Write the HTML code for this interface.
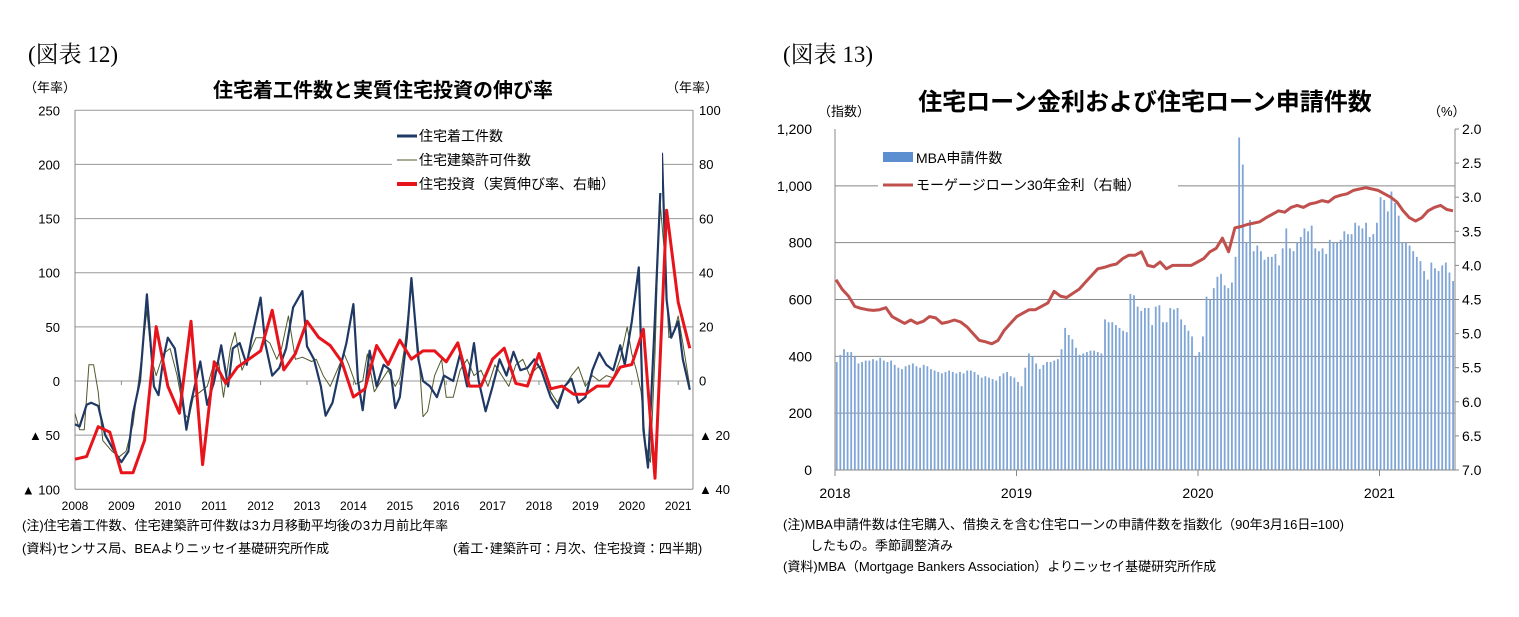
<!DOCTYPE html>
<html><head><meta charset="utf-8">
<style>
body{margin:0;background:#fff;}
svg{display:block;font-family:"Liberation Sans","Noto Sans CJK JP",sans-serif;}
.t{font-size:13px;fill:#000;}
.n{font-size:13px;fill:#000;}
</style></head>
<body>
<svg id="s" width="1519" height="617" viewBox="0 0 1519 617" xmlns="http://www.w3.org/2000/svg">
<text x="28" y="62" style="font-family:'Liberation Serif','Noto Serif CJK SC',serif;font-size:23px">(図表 12)</text>
<text x="783" y="62" style="font-family:'Liberation Serif','Noto Serif CJK SC',serif;font-size:23px">(図表 13)</text>
<text x="383" y="97" text-anchor="middle" style="font-size:20px;font-weight:bold">住宅着工件数と実質住宅投資の伸び率</text>
<text x="24" y="92" class="t">（年率）</text>
<text x="666" y="92" class="t">（年率）</text>
<text x="1145" y="110" text-anchor="middle" style="font-size:24px;font-weight:bold">住宅ローン金利および住宅ローン申請件数</text>
<text x="818" y="116" class="t">（指数）</text>
<text x="1428" y="116" class="t">（%）</text>
<g id="L"></g>
<g id="R"></g>
<text x="22" y="530" class="n">(注)住宅着工件数、住宅建築許可件数は3カ月移動平均後の3カ月前比年率</text>
<text x="22" y="553" class="n">(資料)センサス局、BEAよりニッセイ基礎研究所作成</text>
<text x="453" y="553" class="n">(着工･建築許可：月次、住宅投資：四半期)</text>
<text x="783" y="529" class="n">(注)MBA申請件数は住宅購入、借換えを含む住宅ローンの申請件数を指数化（90年3月16日=100)</text>
<text x="810" y="550" class="n">したもの。季節調整済み</text>
<text x="783" y="571" class="n">(資料)MBA（Mortgage Bankers Association）よりニッセイ基礎研究所作成</text>
</svg>
<script>
// ---- Left chart data ----
const startsT=[2008.0,2008.1,2008.25,2008.35,2008.5,2008.65,2008.85,2009.0,2009.15,2009.25,2009.4,2009.55,2009.7,2009.8,2009.9,2010.0,2010.15,2010.3,2010.4,2010.5,2010.7,2010.85,2011.0,2011.15,2011.3,2011.4,2011.55,2011.7,2011.8,2012.0,2012.1,2012.25,2012.4,2012.55,2012.7,2012.9,2013.0,2013.15,2013.3,2013.4,2013.55,2013.7,2013.85,2014.0,2014.1,2014.2,2014.35,2014.5,2014.65,2014.8,2014.9,2015.0,2015.15,2015.25,2015.4,2015.5,2015.65,2015.8,2015.95,2016.15,2016.3,2016.45,2016.6,2016.7,2016.85,2017.0,2017.15,2017.3,2017.45,2017.6,2017.75,2017.9,2018.05,2018.25,2018.4,2018.55,2018.7,2018.85,2019.0,2019.15,2019.3,2019.45,2019.6,2019.75,2019.85,2020.0,2020.15,2020.25,2020.35,2020.5,2020.65,2020.75,2020.85,2021.0,2021.1,2021.25];
const startsV=[-40,-42,-22,-20,-23,-50,-65,-75,-65,-30,0,80,-5,-13,20,40,30,-10,-45,-20,18,-22,0,33,-5,30,35,15,38,77,35,5,12,30,68,83,32,20,-5,-32,-20,10,35,71,0,-27,28,-5,15,10,-25,-15,40,95,20,0,-5,-15,5,0,25,-5,35,0,-28,-5,20,5,27,10,12,20,10,-15,-25,-5,2,-20,-15,10,26,15,10,33,15,55,105,-45,-80,60,210,75,40,55,20,-8];
const permitT=[2008.0,2008.1,2008.2,2008.3,2008.4,2008.5,2008.6,2008.8,2008.95,2009.1,2009.25,2009.4,2009.55,2009.65,2009.75,2009.9,2010.05,2010.2,2010.35,2010.45,2010.55,2010.7,2010.85,2011.0,2011.1,2011.2,2011.35,2011.45,2011.6,2011.75,2011.9,2012.05,2012.2,2012.35,2012.45,2012.6,2012.75,2012.9,2013.1,2013.2,2013.35,2013.5,2013.65,2013.8,2013.9,2014.05,2014.2,2014.3,2014.45,2014.6,2014.75,2014.9,2015.0,2015.1,2015.25,2015.4,2015.5,2015.6,2015.75,2015.9,2016.0,2016.15,2016.3,2016.45,2016.6,2016.75,2016.9,2017.05,2017.2,2017.35,2017.5,2017.65,2017.8,2017.95,2018.1,2018.25,2018.4,2018.55,2018.7,2018.85,2019.0,2019.15,2019.3,2019.45,2019.6,2019.75,2019.9,2020.0,2020.1,2020.2,2020.3,2020.4,2020.5,2020.6,2020.7,2020.8,2020.9,2021.0,2021.1,2021.25];
const permitV=[-30,-45,-45,15,15,-10,-55,-65,-70,-65,-40,10,65,20,5,25,30,5,-30,-35,-15,-10,-5,17,17,-15,30,45,10,25,40,40,35,20,30,60,20,22,18,20,5,-5,10,25,15,-3,0,25,-10,0,10,-5,3,30,90,30,-33,-28,5,20,-15,-15,10,20,5,10,-5,15,5,-5,15,20,5,12,15,-10,-20,-5,5,13,-5,5,0,5,3,20,50,25,10,-10,-60,-75,25,170,120,40,45,60,35,-5];
const investV=[-29,-28,-17,-19,-34,-34,-22,20,-2,-12,22,-31,7,-1,5,8,11,26,4,10,22,16,13,7,-6,-3,13,6,15,8,11,11,7,14,-2,-2,8,12,-1,-2,10,-3,-2,-5,-5,-2,-2,5,6,19,-36,63,29,12];
const leftTicks=["250","200","150","100","50","0","▲ 50","▲ 100"];
const leftTickVals=[250,200,150,100,50,0,-50,-100];
const rightTicks=["100","80","60","40","20","0","▲ 20","▲ 40"];
const rightTickVals=[100,80,60,40,20,0,-20,-40];
const yearLabels=["2008","2009","2010","2011","2012","2013","2014","2015","2016","2017","2018","2019","2020","2021"];

// ---- Right chart data ----
const mbaV=[380,405,425,415,415,400,375,380,385,385,390,385,395,385,380,385,370,360,355,365,370,375,365,360,370,365,355,350,345,340,345,350,345,340,345,340,350,350,345,335,325,330,325,320,315,330,340,345,330,325,310,295,
360,410,400,375,355,370,380,380,385,390,425,500,475,460,430,405,410,415,420,420,415,410,530,520,520,510,500,490,485,620,615,575,560,570,570,510,575,580,520,520,570,565,570,530,510,490,470,400,
415,470,610,600,640,680,690,650,640,660,750,1170,1075,800,880,770,790,770,740,750,750,760,720,780,850,780,770,800,820,850,840,860,780,770,780,760,810,800,800,810,840,830,830,870,860,850,870,820,830,870,
960,950,910,980,940,895,800,800,790,770,750,735,700,670,730,710,700,720,730,695,665];
const rateV=[4.21,4.35,4.45,4.6,4.63,4.65,4.66,4.65,4.62,4.75,4.8,4.85,4.8,4.85,4.82,4.75,4.77,4.85,4.83,4.8,4.83,4.9,5.0,5.1,5.12,5.15,5.1,4.95,4.85,4.75,4.7,4.65,4.65,4.6,4.55,4.38,4.45,4.47,4.41,4.35,4.25,4.15,4.05,4.03,4.0,3.98,3.9,3.85,3.85,3.8,4.0,4.02,3.95,4.05,4.0,4.0,4.0,4.0,3.95,3.9,3.8,3.75,3.6,3.8,3.45,3.43,3.4,3.38,3.36,3.3,3.25,3.2,3.22,3.15,3.12,3.15,3.1,3.08,3.05,3.07,3.0,2.97,2.95,2.9,2.88,2.86,2.88,2.9,2.95,3.0,3.07,3.2,3.3,3.35,3.3,3.2,3.15,3.12,3.18,3.2];
const mbaTicks=["0","200","400","600","800","1,000","1,200"];
const mbaTickVals=[0,200,400,600,800,1000,1200];
const rateTicks=["2.0","2.5","3.0","3.5","4.0","4.5","5.0","5.5","6.0","6.5","7.0"];
const rateTickVals=[2,2.5,3,3.5,4,4.5,5,5.5,6,6.5,7];
const rYearLabels=["2018","2019","2020","2021"];

const NS="http://www.w3.org/2000/svg";
function mk(parent,tag,attrs){const e=document.createElementNS(NS,tag);for(const k in attrs)e.setAttribute(k,attrs[k]);parent.appendChild(e);return e;}

// Left axes
const L=document.getElementById('L');
const lx0=75,lx1=693,ly0=110,ly1=489;
const xL=t=>lx0+(t-2008)*46.4;
const yL=v=>381-v*(ly1-ly0)/350;
const yLR=v=>ly0+(100-v)*(ly1-ly0)/140;
leftTickVals.forEach((v,i)=>{
  const g=mk(L,'line',{x1:lx0,x2:lx1,y1:yL(v),y2:yL(v),stroke:v===-100?'#888':'#999','stroke-width':1});
  
  
  const t=mk(L,'text',{x:60,y:yL(v)+5,'text-anchor':'end','font-size':13});
  t.textContent=leftTicks[i];
  
  
});
rightTickVals.forEach((v,i)=>{
  const t=mk(L,'text',{x:699,y:yLR(v)+5,'font-size':13});
  t.textContent=rightTicks[i];
  
  
});
let ax=mk(L,'line',{x1:lx0,x2:lx0,y1:ly0,y2:ly1,stroke:'#888'});


ax=mk(L,'line',{x1:lx1,x2:lx1,y1:ly0,y2:ly1,stroke:'#888'});


yearLabels.forEach((y,i)=>{
  const x=xL(2008+i);
  mk(L,'line',{x1:x,x2:x,y1:381,y2:385,stroke:'#888'});
  const t=mk(L,'text',{x:x,y:510,'text-anchor':'middle','font-size':12});
  t.textContent=y;
  
  
});
function poly(parent,pts,color,w,name){
  const p=mk(parent,'polyline',{points:pts.map(p=>p[0].toFixed(1)+','+p[1].toFixed(1)).join(' '),fill:'none',stroke:color,'stroke-width':w,'stroke-linejoin':'round'});
  
  
}
poly(L,permitT.map((t,i)=>[xL(t),yL(permitV[i])]),'#4f5a2a',1,'permits-line');
poly(L,startsT.map((t,i)=>[xL(t),yL(startsV[i])]),'#1f3864',2.2,'starts-line');
poly(L,investV.map((v,i)=>[xL(2008+i*0.25),yLR(v)]),'#e8141c',3,'investment-line');
// left legend
mk(L,'rect',{x:392,y:125,width:270,height:68,fill:'#fff'});
[['#1f3864',3,'住宅着工件数',136],['#4f5a2a',1,'住宅建築許可件数',160],['#e8141c',4,'住宅投資（実質伸び率、右軸）',184]].forEach(d=>{
  const l=mk(L,'line',{x1:397,x2:417,y1:d[3],y2:d[3],stroke:d[0],'stroke-width':d[1]});
  
  
  const t=mk(L,'text',{x:419,y:d[3]+5,'font-size':14});
  t.textContent=d[2];
  
  
});

// Right chart
const R=document.getElementById('R');
const rx0=835,rx1=1455,ry0=129,ry1=470;
const yM=v=>ry1-v*(ry1-ry0)/1200;
const yRt=r=>ry0+(r-2)*(ry1-ry0)/5;
mbaTickVals.forEach((v,i)=>{
  if(v>0&&v<1200){const g=mk(R,'line',{x1:rx0,x2:rx1,y1:yM(v),y2:yM(v),stroke:'#888'});
  
  }
  const t=mk(R,'text',{x:812,y:yM(v)+5,'text-anchor':'end','font-size':14});
  t.textContent=mbaTicks[i];
  
  
});
rateTickVals.forEach((v,i)=>{
  mk(R,'line',{x1:rx1,x2:rx1+4,y1:yRt(v),y2:yRt(v),stroke:'#888'});
  const t=mk(R,'text',{x:1462,y:yRt(v)+5,'font-size':14});
  t.textContent=rateTicks[i];
  
  
});
const step=(rx1-rx0)/mbaV.length;
mbaV.forEach((v,i)=>{
  const b=mk(R,'rect',{x:rx0+i*step+0.8,y:yM(v),width:Math.max(1,step*0.5),height:ry1-yM(v),fill:'#7fa6d6'});
  
  
});
ax=mk(R,'line',{x1:rx0,x2:rx0,y1:ry0,y2:ry1,stroke:'#888'});


ax=mk(R,'line',{x1:rx1,x2:rx1,y1:ry0,y2:ry1,stroke:'#888'});


ax=mk(R,'line',{x1:rx0,x2:rx1,y1:ry1,y2:ry1,stroke:'#888'});


rYearLabels.forEach((y,i)=>{
  const x=rx0+i*181.5;
  mk(R,'line',{x1:x,x2:x,y1:ry1,y2:ry1+6,stroke:'#888'});
  const t=mk(R,'text',{x:x,y:498,'text-anchor':'middle','font-size':14});
  t.textContent=y;
  
  
});
const rstep=(rx1-rx0-3)/(rateV.length-1);
poly(R,rateV.map((v,i)=>[rx0+1+i*rstep,yRt(v)]),'#c0504d',3,'mortgage-rate-line');
mk(R,'rect',{x:878,y:146,width:300,height:50,fill:'#fff'});
const sw=mk(R,'rect',{x:883,y:152,width:30,height:10,fill:'#5b8fd0'});


let lt=mk(R,'text',{x:916,y:163,'font-size':14});
lt.textContent='MBA申請件数';


const sl=mk(R,'line',{x1:883,x2:913,y1:185,y2:185,stroke:'#c0504d','stroke-width':3});


lt=mk(R,'text',{x:916,y:190,'font-size':14});
lt.textContent='モーゲージローン30年金利（右軸）';


</script>
</body></html>
